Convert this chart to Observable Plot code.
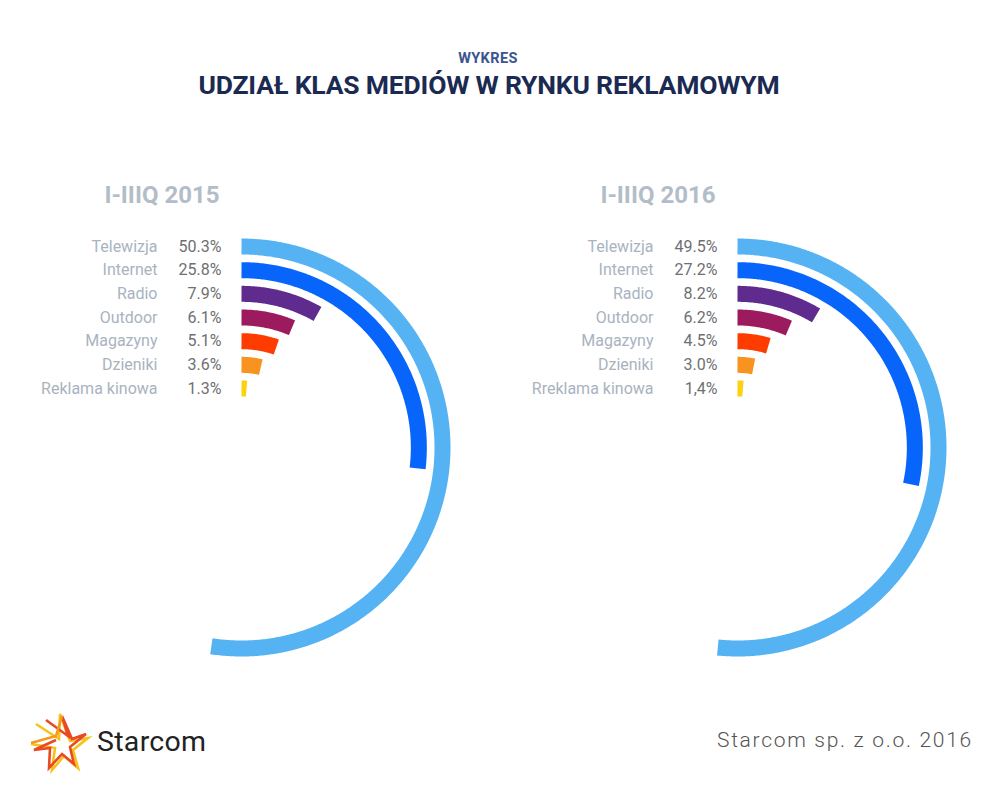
<!DOCTYPE html>
<html>
<head>
<meta charset="utf-8">
<script src="https://cdn.jsdelivr.net/npm/d3@7"></script>
<script src="https://cdn.jsdelivr.net/npm/@observablehq/plot@0.6"></script>
<style>
  html, body { margin: 0; padding: 0; background: #fff; }
  #page { position: relative; width: 1000px; height: 800px; font-family: Roboto, "Open Sans", sans-serif; overflow: hidden; }
  .abs { position: absolute; }
  #kicker { left: 0; width: 976px; top: 50px; text-align: center; font-size: 14.5px; font-weight: 700; color: #3a5490; letter-spacing: 0.4px; }
  #title { left: 0; width: 978px; top: 69px; text-align: center; font-size: 26.5px; font-weight: 700; color: #1b2a52; letter-spacing: -0.2px; }
  #p2015 { left: 0; top: 150px; }
  #p2016 { left: 496px; top: 150px; }
  #brand { left: 97px; top: 725px; font-size: 28.5px; color: #222; letter-spacing: 0.3px; }
  #credit { left: 717px; top: 728px; font-size: 21px; font-weight: 300; color: #555; letter-spacing: 1.7px; }
  #logo { left: 26px; top: 710px; }
</style>
</head>
<body>
<div id="page">
  <div id="kicker" class="abs">WYKRES</div>
  <div id="title" class="abs">UDZIAŁ KLAS MEDIÓW W RYNKU REKLAMOWYM</div>
  <div id="p2015" class="abs"></div>
  <div id="p2016" class="abs"></div>
  <svg id="logo" class="abs" width="72" height="66" viewBox="0 0 72 66">
    <g fill="none" stroke-width="2.6" stroke-linejoin="miter">
      <polyline points="10,14 33,29 34,4 44,31 62,28 47,40 52,58 38,46 26,60 29,38 5,34" stroke="#f7c21a"/>
      <polyline points="20,10 42,26 36,6 46,29 60,24 44,37 48,54 36,44 23,58 24,38 8,40 30,30" stroke="#ea4a23"/>
      <polyline points="5,33 30,26 36,6" stroke="#f39a1e"/>
    </g>
  </svg>
  <div id="brand" class="abs">Starcom</div>
  <div id="credit" class="abs">Starcom sp. z o.o. 2016</div>
</div>
<script>
// ---- data ----
const categories = ["Telewizja", "Internet", "Radio", "Outdoor", "Magazyny", "Dzienniki", "Reklama kinowa"];
const names2015 = ["Telewizja", "Internet", "Radio", "Outdoor", "Magazyny", "Dzieniki", "Reklama kinowa"];
const names2016 = ["Telewizja", "Internet", "Radio", "Outdoor", "Magazyny", "Dzieniki", "Rreklama kinowa"];
const share2015 = [50.3, 25.8, 7.9, 6.1, 5.1, 3.6, 1.3];
const share2016 = [49.5, 27.2, 8.2, 6.2, 4.5, 3.0, 1.4];
const pctLabels2015 = ["50.3%", "25.8%", "7.9%", "6.1%", "5.1%", "3.6%", "1.3%"];
const pctLabels2016 = ["49.5%", "27.2%", "8.2%", "6.2%", "4.5%", "3.0%", "1,4%"];
const periods = ["I-IIIQ 2015", "I-IIIQ 2016"];
const colors = ["#55b3f3", "#0865fb", "#5f2b8f", "#9c1b5f", "#ff3c00", "#f7931e", "#fbd20f"];

// ---- scales for the radial layout ----
const radius = d3.scalePoint().domain(categories).range([201, 59]);
const angle = d3.scaleLinear().domain([0, 100]).range([0, 375]); // degrees, clockwise from top

function radialChart(period, names, shares, pctLabels) {
  const rows = categories.map((c, i) => ({cat: c, name: names[i], value: shares[i], pct: pctLabels[i], r: radius(c)}));
  // trace each arc along its radius from 0 to the value's angle
  const arcs = rows.flatMap(d => {
    const end = angle(d.value);
    const n = Math.max(2, Math.ceil(end / 0.5) + 1);
    return d3.range(n).map(k => {
      const a = (end * k / (n - 1)) * Math.PI / 180;
      return {cat: d.cat, x: d.r * Math.sin(a), y: d.r * Math.cos(a)};
    });
  });
  return Plot.plot({
    width: 500,
    height: 560,
    margin: 0,
    x: {type: "linear", domain: [-241, 259], range: [0, 500], axis: null},
    y: {type: "linear", domain: [297, -263], range: [0, 560], axis: null},
    color: {domain: categories, range: colors},
    style: {fontFamily: "Roboto, sans-serif", background: "transparent"},
    marks: [
      Plot.line(arcs, {x: "x", y: "y", z: "cat", stroke: "cat", strokeWidth: 16, strokeLinecap: "butt", strokeLinejoin: "round"}),
      Plot.text(rows, {x: -84, y: "r", text: "name", textAnchor: "end", fill: "#a9b3c0", fontSize: 16, letterSpacing: 0.8}),
      Plot.text(rows, {x: -20, y: "r", text: "pct", textAnchor: "end", fill: "#6e6f72", fontSize: 16, letterSpacing: 0.6}),
      Plot.text([period], {x: -22, y: 252, text: d => d, textAnchor: "end", fill: "#b3bdc8", fontSize: 24, fontWeight: 700})
    ]
  });
}

document.getElementById("p2015").appendChild(radialChart(periods[0], names2015, share2015, pctLabels2015));
document.getElementById("p2016").appendChild(radialChart(periods[1], names2016, share2016, pctLabels2016));
</script>
</body>
</html>
